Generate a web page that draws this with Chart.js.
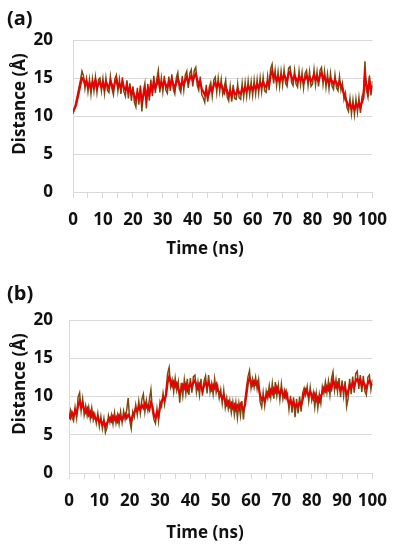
<!DOCTYPE html>
<html>
<head>
<meta charset="utf-8">
<script src="https://cdn.jsdelivr.net/npm/chart.js@4/dist/chart.umd.min.js"></script>
<style>
    html, body { margin: 0; padding: 0; background: #fff; }
    #page { position: relative; width: 399px; height: 550px; overflow: hidden; font-family: 'Open Sans', sans-serif; color: #111; }
    .panel { position: absolute; left: 0; width: 399px; height: 275px; }
    .lbl { position: absolute; font-weight: 700; white-space: nowrap; line-height: 1; }
    .panel-tag { font-size: 20px; }
    .ytitle { font-size: 17px; transform: translate(-50%, -50%) rotate(-90deg); }
    .xtitle { font-size: 17px; transform: translate(-50%, -50%); }
</style>
</head>
<body>
<div id="page">
    <div class="panel" style="top:0"><canvas id="chartA" width="399" height="275"></canvas></div>
    <div class="panel" style="top:275px"><canvas id="chartB" width="399" height="275"></canvas></div>

    <div class="lbl panel-tag" style="left:7px; top:8px">(a)</div>
    <div class="lbl ytitle" style="left:18px; top:104px">Distance (Å)</div>
    <div class="lbl xtitle" style="left:205px; top:247px">Time (ns)</div>

    <div class="lbl panel-tag" style="left:7px; top:283px">(b)</div>
    <div class="lbl ytitle" style="left:18px; top:384px">Distance (Å)</div>
    <div class="lbl xtitle" style="left:205px; top:531px">Time (ns)</div>
</div>

<script>
// sampling: one frame every 0.5 ns, 0 .. 100 ns
const STEP_NS = 0.5;

const xTicks = [0, 10, 20, 30, 40, 50, 60, 70, 80, 90, 100];
const yTicks = [0, 5, 10, 15, 20];

// (a) distance, A - red trace
const distA_red = [
    10.6, 11.0, 11.4, 12.3, 13.2, 14.1, 15.0, 14.8, 14.2, 14.6, 13.8, 14.3, 13.6, 14.4, 13.9, 14.7, 13.7, 14.2, 14.5, 13.8,
    14.3, 13.6, 14.5, 14.0, 13.7, 14.6, 14.1, 13.5, 14.4, 14.8, 13.9, 14.2, 13.6, 14.5, 13.8, 13.4, 14.1, 13.2, 13.7, 12.9,
    13.4, 12.6, 12.1, 13.0, 12.4, 13.3, 11.8, 12.7, 13.5, 12.2, 13.6, 12.8, 14.0, 13.3, 14.5, 13.7, 14.2, 14.9, 13.8, 14.4,
    13.9, 14.6, 14.1, 13.7, 14.5, 14.0, 14.8, 14.2, 13.6, 14.4, 14.9, 14.3, 13.8, 14.6, 14.1, 14.7, 15.1, 14.4, 14.9, 15.3,
    14.6, 15.2, 15.5, 14.8, 14.1, 14.5, 13.6, 13.2, 12.8, 13.4, 12.5, 13.1, 13.7, 13.3, 14.0, 14.4, 13.8, 14.3, 13.9, 14.1,
    13.6, 13.1, 13.8, 13.3, 12.7, 13.2, 12.6, 13.4, 13.0, 12.8, 13.5, 13.1, 12.9, 13.6, 13.2, 13.7, 13.3, 13.9, 13.5, 13.8,
    13.4, 14.0, 13.6, 14.1, 13.7, 14.3, 13.9, 14.4, 14.0, 13.8, 14.5, 14.1, 15.4, 15.9, 15.0, 15.3, 14.7, 15.1, 14.6, 15.2,
    14.8, 15.4, 15.0, 14.6, 15.6, 15.8, 15.1, 14.7, 15.3, 14.9, 14.5, 15.2, 14.8, 15.0, 14.4, 14.9, 15.3, 14.7, 15.1, 14.6,
    14.9, 15.4, 14.8, 15.1, 14.6, 15.3, 15.7, 14.9, 15.2, 14.5, 14.8, 14.3, 14.9, 14.6, 14.2, 14.7, 14.4, 14.0, 14.5, 14.1,
    13.6, 12.9, 12.3, 11.8, 11.3, 11.6, 11.0, 11.4, 10.9, 11.5, 11.2, 11.7, 11.1, 11.8, 12.4, 15.2, 14.1, 13.2, 14.6, 13.4,
    14.0
];

// (a) distance, A - dark trace
const distA_dark = [
    10.3, 10.9, 11.9, 12.8, 13.8, 14.7, 15.9, 15.3, 13.6, 14.9, 13.2, 14.8, 12.9, 14.9, 13.3, 15.1, 13.1, 14.8, 15.0, 13.3,
    14.9, 13.0, 15.0, 13.4, 13.1, 15.2, 13.6, 12.8, 14.9, 15.4, 13.3, 14.8, 12.9, 15.1, 13.2, 12.6, 14.7, 12.3, 14.3, 12.0,
    13.9, 11.8, 11.2, 13.7, 11.5, 14.0, 10.6, 13.3, 14.3, 11.0, 14.2, 12.0, 14.8, 12.6, 15.3, 13.0, 14.9, 16.0, 13.1, 15.0,
    13.2, 15.3, 13.4, 13.0, 15.2, 13.3, 15.5, 13.5, 12.9, 15.0, 15.7, 13.6, 13.1, 15.3, 13.4, 15.4, 15.9, 13.7, 15.6, 16.1,
    13.9, 16.0, 16.4, 14.0, 13.4, 15.2, 12.8, 12.4, 11.8, 14.1, 11.9, 13.8, 14.4, 12.6, 14.7, 15.1, 13.1, 15.0, 13.2, 14.8,
    12.9, 13.8, 14.7, 12.5, 12.0, 13.9, 11.9, 14.1, 12.3, 12.2, 14.2, 12.4, 12.2, 14.3, 12.5, 14.4, 12.6, 14.6, 12.8, 14.5,
    12.7, 14.7, 12.9, 14.8, 13.0, 15.0, 13.2, 15.1, 13.3, 13.1, 15.2, 13.4, 16.2, 16.8, 14.3, 16.0, 14.0, 15.8, 13.9, 15.9,
    14.1, 16.1, 14.3, 13.9, 16.3, 16.5, 14.4, 14.0, 16.0, 14.2, 13.8, 15.9, 14.1, 15.7, 13.7, 15.6, 16.0, 14.0, 15.8, 13.9,
    14.2, 16.1, 14.1, 15.8, 13.9, 16.0, 16.4, 14.2, 15.9, 13.8, 15.5, 13.6, 15.6, 13.9, 13.5, 15.4, 13.7, 13.3, 15.2, 13.4,
    14.3, 12.2, 13.0, 11.1, 10.6, 12.3, 10.3, 12.1, 10.2, 12.2, 10.5, 12.4, 10.4, 12.5, 13.1, 17.2, 13.4, 12.5, 15.3, 12.7,
    14.6
];

// (b) distance, A - red trace
const distB_red = [
    7.6, 7.2, 7.9, 7.4, 8.1, 7.7, 8.8, 9.4, 8.6, 9.1, 8.2, 7.9, 8.4, 7.6, 8.0, 7.4, 7.8, 7.2, 6.9, 7.3,
    6.6, 6.9, 6.3, 6.7, 6.1, 6.5, 6.9, 7.2, 6.8, 7.4, 7.0, 7.3, 6.8, 7.5, 7.1, 6.9, 7.4, 7.7, 7.2, 7.6,
    7.3, 6.8, 7.5, 7.9, 8.4, 8.1, 8.7, 8.3, 8.9, 8.5, 9.1, 8.6, 8.8, 8.3, 9.2, 8.7, 7.6, 7.2, 7.9, 7.4,
    8.6, 9.3, 9.8, 9.5, 10.2, 11.8, 12.6, 12.0, 11.4, 11.9, 11.3, 11.7, 11.0, 10.4, 10.9, 11.5, 11.1, 11.6, 10.8, 11.3,
    11.7, 11.2, 11.8, 12.1, 11.5, 11.0, 11.6, 11.2, 10.7, 11.4, 11.9, 11.3, 11.8, 11.4, 10.9, 11.5, 11.1, 11.6, 10.8, 10.6,
    10.2, 9.7, 10.1, 9.4, 8.9, 9.3, 8.7, 9.1, 8.5, 8.9, 8.3, 8.8, 8.4, 9.0, 8.6, 8.2, 8.9, 10.3, 11.8, 12.4,
    11.9, 11.5, 12.0, 11.6, 11.9, 11.2, 10.1, 9.6, 9.9, 9.4, 10.0, 10.5, 10.1, 10.8, 10.4, 11.0, 10.6, 11.2, 10.7, 10.3,
    10.9, 10.4, 10.0, 10.6, 9.6, 9.1, 9.5, 8.9, 9.3, 8.6, 9.0, 8.7, 9.2, 8.8, 9.6, 10.4, 10.9, 10.5, 10.1, 10.6,
    10.2, 9.7, 10.3, 9.5, 9.9, 9.4, 10.0, 10.5, 11.1, 10.7, 11.3, 10.9, 11.5, 11.0, 12.1, 11.6, 11.2, 11.7, 11.3, 10.8,
    11.4, 10.9, 11.2, 10.2, 10.7, 11.5, 11.1, 11.8, 11.3, 12.0, 12.3, 11.8, 12.2, 11.4, 11.9, 11.5, 11.0, 11.7, 12.1, 11.6,
    11.4
];

// (b) distance, A - dark trace
const distB_dark = [
    7.0, 8.2, 7.3, 6.8, 8.6, 7.2, 9.9, 10.5, 8.1, 9.7, 7.6, 8.8, 7.5, 8.6, 7.1, 8.5, 6.9, 7.7, 6.5, 7.8,
    6.1, 7.4, 5.8, 7.1, 5.3, 5.9, 7.5, 6.6, 7.6, 6.4, 7.9, 6.5, 7.6, 6.4, 8.0, 6.6, 8.1, 7.0, 8.2, 9.8,
    6.9, 5.8, 8.0, 7.3, 8.9, 7.6, 9.4, 7.8, 9.6, 10.3, 8.0, 9.5, 8.2, 9.6, 10.9, 8.2, 7.0, 6.5, 8.4, 6.8,
    9.3, 8.7, 10.4, 9.0, 10.9, 13.0, 13.8, 11.3, 12.2, 10.6, 12.4, 10.8, 11.9, 9.2, 11.8, 10.1, 12.2, 10.4, 12.3, 10.2,
    12.4, 10.5, 12.6, 12.8, 10.6, 11.9, 10.2, 12.3, 10.1, 12.0, 12.7, 10.4, 12.8, 10.6, 11.7, 10.3, 12.3, 10.5, 11.4, 9.8,
    10.9, 9.1, 10.8, 8.6, 9.8, 8.4, 9.5, 7.9, 9.3, 7.6, 9.2, 7.2, 9.1, 7.5, 9.4, 7.0, 9.6, 11.2, 12.6, 13.4,
    11.1, 12.3, 11.2, 12.5, 11.0, 12.2, 9.3, 8.6, 10.5, 8.8, 10.7, 9.8, 11.4, 9.9, 11.7, 9.7, 11.9, 10.1, 11.5, 9.6,
    11.6, 9.7, 10.8, 9.8, 10.3, 8.3, 10.1, 7.9, 9.9, 7.3, 9.7, 7.8, 10.0, 8.0, 10.4, 11.1, 10.2, 11.3, 9.4, 11.2,
    9.5, 10.5, 8.6, 10.4, 8.5, 10.3, 9.1, 11.3, 10.4, 11.9, 10.5, 12.0, 10.2, 12.3, 13.2, 10.8, 12.2, 10.6, 12.4, 9.9,
    12.1, 10.1, 12.0, 8.7, 9.8, 12.3, 10.3, 12.6, 10.5, 13.0, 13.3, 11.0, 12.8, 10.6, 12.7, 10.7, 10.2, 12.5, 12.8, 10.9,
    12.2
];

const RED = '#ea0000';
const DARK = '#7a4a10';
const GRID = '#d9d9d9';
const TICK_FONT = { family: "'Open Sans', sans-serif", size: 17, weight: 'bold' };

function toPoints(values) {
    return values.map((v, i) => ({ x: i * STEP_NS, y: v }));
}

function makeChart(canvasId, redVals, darkVals, box) {
    const ctx = document.getElementById(canvasId);
    return new Chart(ctx.getContext('2d'), {
        type: 'line',
        data: {
            datasets: [
                { data: toPoints(redVals), borderColor: RED, borderWidth: 2.2, pointRadius: 0, order: 1 },
                { data: toPoints(darkVals), borderColor: DARK, borderWidth: 1.5, pointRadius: 0, order: 2 }
            ]
        },
        options: {
            responsive: false,
            animation: false,
            layout: { padding: { top: box.top, right: box.right, bottom: box.bottom, left: 0 } },
            plugins: { legend: { display: false }, tooltip: { enabled: false } },
            scales: {
                x: {
                    type: 'linear',
                    min: xTicks[0],
                    max: xTicks[xTicks.length - 1],
                    afterFit: (s) => { s.height = 40; },
                    grid: { drawOnChartArea: false, tickLength: 6, color: GRID },
                    border: { color: GRID },
                    ticks: {
                        stepSize: 5,
                        autoSkip: false,
                        maxRotation: 0,
                        padding: box.xPad,
                        color: '#111',
                        font: TICK_FONT,
                        callback: (v) => xTicks.includes(v) ? v : ''
                    }
                },
                y: {
                    min: yTicks[0],
                    max: yTicks[yTicks.length - 1],
                    afterFit: (s) => { s.width = box.left; },
                    grid: { color: GRID, drawTicks: false },
                    border: { color: GRID },
                    ticks: {
                        stepSize: 5,
                        padding: box.yPad,
                        color: '#111',
                        font: TICK_FONT,
                        callback: (v) => yTicks.includes(v) ? v : ''
                    }
                }
            }
        }
    });
}

makeChart('chartA', distA_red, distA_dark, { top: 40, right: 25, bottom: 43, left: 73, yPad: 20, xPad: 12 });
makeChart('chartB', distB_red, distB_dark, { top: 45, right: 23, bottom: 37, left: 69, yPad: 16, xPad: 12 });
</script>
</body>
</html>
